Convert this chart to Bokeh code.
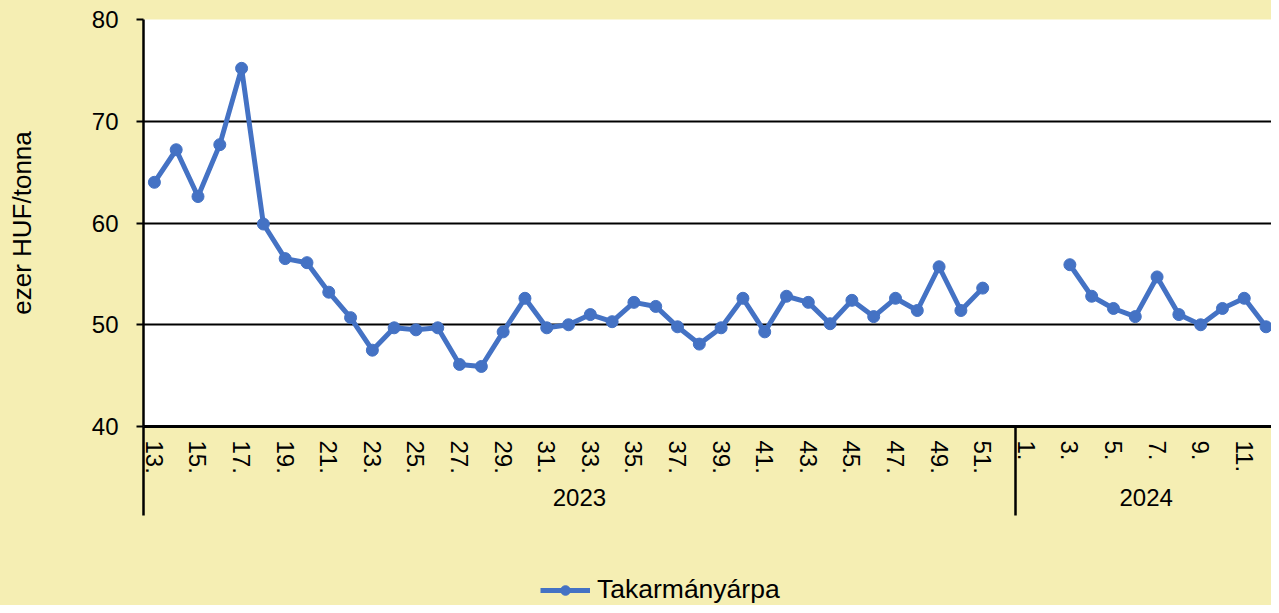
import numpy as np
from bokeh.plotting import figure
from bokeh.layouts import column
from bokeh.models import (ColumnDataSource, Range1d, FixedTicker, LinearAxis,
                          Legend, LegendItem)
from bokeh.embed import file_html
from bokeh.resources import INLINE

# ---------------- data ----------------
year_labels = ["2023", "2024"]
weeks_2023 = [f"{w}." for w in range(13, 53)]
price_2023 = [64.0, 67.2, 62.6, 67.7, 75.2, 59.9, 56.5, 56.1, 53.2, 50.7,
              47.5, 49.7, 49.5, 49.7, 46.1, 45.9, 49.3, 52.6, 49.7, 50.0,
              51.0, 50.3, 52.2, 51.8, 49.8, 48.1, 49.7, 52.6, 49.3, 52.8,
              52.2, 50.1, 52.4, 50.8, 52.6, 51.4, 55.7, 51.4, 53.6, None]
weeks_2024 = [f"{w}." for w in range(1, 13)]
price_2024 = [None, None, 55.9, 52.8, 51.6, 50.8, 54.7, 51.0, 50.0, 51.6, 52.6, 49.8]
y_ticks = [40, 50, 60, 70, 80]
series_name = "Takarmányárpa"
y_title = "ezer HUF/tonna"

# ---------------- styles ----------------
BG = "#F5EEB3"
BLUE = "#4472C4"
FONT = "Liberation Sans"
W = 1271

weeks = weeks_2023 + weeks_2024
prices = np.array([np.nan if v is None else v for v in price_2023 + price_2024], dtype=float)
xs = np.arange(len(weeks), dtype=float)
n23 = len(weeks_2023)

p = figure(width=W, height=565,
           x_range=Range1d(-0.5, len(weeks) - 0.75), y_range=Range1d(40, 80),
           x_axis_location=None, y_axis_location="left",
           output_backend="svg", toolbar_location=None,
           min_border_left=143, min_border_right=0, min_border_top=19, min_border_bottom=139,
           background_fill_color="white", border_fill_color=BG, outline_line_color=None)

# y axis
ax = p.yaxis[0]
ax.ticker = FixedTicker(ticks=y_ticks)
ax.axis_line_color = "black"
ax.axis_line_width = 2.5
ax.major_tick_line_color = "black"
ax.major_tick_line_width = 2
ax.major_tick_out = 7
ax.major_tick_in = 0
ax.minor_tick_line_color = None
ax.major_label_text_font = FONT
ax.major_label_text_font_size = "24px"
ax.major_label_text_color = "black"
ax.major_label_standoff = 18
ax.axis_label = y_title
ax.axis_label_text_font = FONT
ax.axis_label_text_font_size = "26px"
ax.axis_label_text_font_style = "normal"
ax.axis_label_text_color = "black"
ax.axis_label_standoff = 52

# grid lines
p.ygrid.ticker = FixedTicker(ticks=[t for t in y_ticks if t > 40])
p.ygrid.grid_line_color = "black"
p.ygrid.grid_line_width = 2
p.xgrid.visible = False

# week axis (every other week labelled; minor ticks are the year separators)
lab_x = [i for i, w in enumerate(weeks) if int(w.rstrip(".")) % 2 == 1]
wk_axis = LinearAxis(ticker=FixedTicker(ticks=lab_x, minor_ticks=[-0.5, n23 - 0.5]),
                     major_label_overrides={i: weeks[i] for i in lab_x},
                     major_label_orientation="vertical",
                     axis_line_color="black", axis_line_width=3,
                     major_tick_line_color=None, major_tick_out=0, major_tick_in=0,
                     minor_tick_line_color="black", minor_tick_line_width=2.5,
                     minor_tick_out=89, minor_tick_in=0,
                     major_label_standoff=-75,
                     major_label_text_font=FONT, major_label_text_font_size="24px",
                     major_label_text_color="black")
p.add_layout(wk_axis, "below")

# year axis
yr_x = [(0 + n23 - 1) / 2, (n23 + len(weeks) - 1) / 2]
yr_axis = LinearAxis(ticker=FixedTicker(ticks=yr_x, minor_ticks=[]),
                     major_label_overrides={x: t for x, t in zip(yr_x, year_labels)},
                     axis_line_color=None, major_tick_line_color=None,
                     major_tick_out=0, major_tick_in=0, minor_tick_line_color=None,
                     major_label_standoff=12,
                     major_label_text_font=FONT, major_label_text_font_size="24px",
                     major_label_text_color="black")
p.add_layout(yr_axis, "below")

# series
src = ColumnDataSource(dict(x=xs, y=prices))
p.line("x", "y", source=src, line_color=BLUE, line_width=5)
p.scatter("x", "y", source=src, size=12, fill_color=BLUE, line_color=BLUE)

# legend strip below the chart; its renderers use the series data, kept out of view
pl = figure(width=W, height=40, x_range=Range1d(-1000, -999), y_range=Range1d(0, 1),
            x_axis_location=None, y_axis_location=None,
            output_backend="svg", toolbar_location=None,
            min_border_left=0, min_border_right=0, min_border_top=0, min_border_bottom=0,
            background_fill_color=None, border_fill_color=BG, outline_line_color=None)
pl.xgrid.visible = False
pl.ygrid.visible = False
llr = pl.line("x", "y", source=src, line_color=BLUE, line_width=5)
lsr = pl.scatter("x", "y", source=src, size=12, fill_color=BLUE, line_color=BLUE)
legend = Legend(items=[LegendItem(label=series_name, renderers=[llr, lsr])],
                location=(397, 0), orientation="horizontal",
                background_fill_alpha=0, border_line_color=None,
                glyph_width=50, glyph_height=24, label_height=24, label_standoff=7,
                padding=0, margin=0,
                label_text_font=FONT, label_text_font_size="26.5px", label_text_color="black")
pl.add_layout(legend)

open("out.html", "w").write(file_html(column(p, pl, spacing=0, styles={"background-color": BG}), INLINE))
